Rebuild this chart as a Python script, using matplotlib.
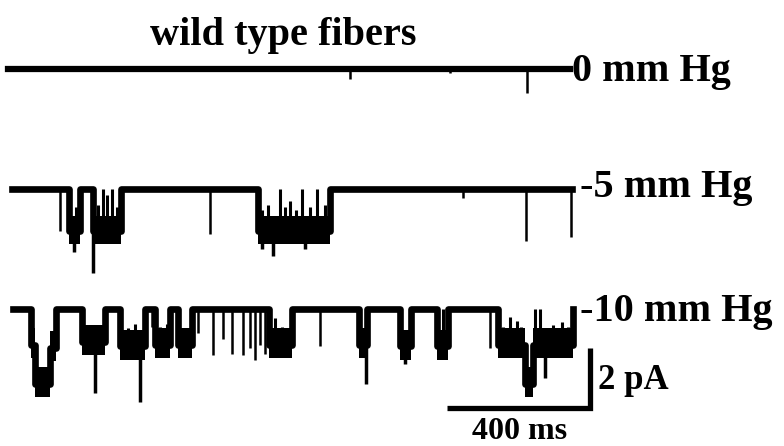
import matplotlib
matplotlib.use('Agg')
import matplotlib.pyplot as plt

# time in ms, current in pA (downward = channel opening)
labels = ['0 mm Hg', '-5 mm Hg', '-10 mm Hg']
offsets = [0, -4, -8]
rec_start = [-6, 6, 8]
rec_end = [1566, 1572, 1576]

# open periods: (start, end, level)
open_0 = []
open_5 = [(165, 196, -1.4), (232, 310, -1.4), (694, 895, -1.4)]
open_10 = [(59, 70, -1.2), (70, 112, -2.5), (112, 130, -1.3), (201, 266, -1.1),
           (308, 378, -1.25), (406, 448, -1.2), (470, 509, -1.2), (725, 789, -1.2),
           (976, 999, -1.2), (1091, 1122, -1.25), (1194, 1225, -1.25),
           (1365, 1440, -1.2), (1440, 1463, -2.5), (1463, 1576, -1.2)]

# brief openings from the closed level: (time, peak)
brief_0 = [(951, -0.35), (1231, -0.15), (1446, -0.8)]
brief_5 = [(140, -1.4), (559, -1.5), (1267, -0.3), (1443, -1.75), (1570, -1.6)]
brief_10 = [(397, -0.6), (526, -0.8), (568, -1.55), (596, -1.0), (621, -1.5),
            (652, -1.55), (671, -1.3), (685, -1.7), (699, -1.2), (713, -1.5),
            (867, -1.25), (1343, -1.3)]

# deeper spikes inside open periods: (time, peak)
deep_0 = []
deep_5 = [(179, -2.1), (232, -2.8), (705, -2.0), (736, -2.25), (825, -2.0)]
deep_10 = [(238, -2.8), (364, -3.1), (996, -2.5), (1105, -1.85), (1496, -2.3)]

# brief closures inside open periods: (time, level reached)
flick_0 = []
flick_5 = [(185, -0.6), (246, -0.55), (260, 0), (271, -0.2), (285, 0), (300, -0.6),
           (705, -0.7), (722, -0.55), (755, 0), (770, -0.6), (783, -0.4), (800, -0.7),
           (817, 0), (840, -0.6), (859, 0), (881, -0.55)]
flick_10 = [(215, -0.6), (330, -0.65), (350, -0.5), (420, -0.6), (438, -0.5),
            (741, -0.3), (760, -0.6), (1211, 0), (1380, -0.6), (1399, -0.27),
            (1418, -0.4), (1430, -0.6), (1468, 0), (1482, 0), (1520, -0.55),
            (1544, -0.45), (1560, -0.6), (1572, 0)]

opens = [open_0, open_5, open_10]
briefs = [brief_0, brief_5, brief_10]
deeps = [deep_0, deep_5, deep_10]
flicks = [flick_0, flick_5, flick_10]
band_up = [0.0, 0.5, 0.55]
band_down = [0.0, 0.42, 0.45]

scale_t = 400   # ms
scale_i = 2     # pA


def level_at(segs, t):
    for a, b, lev in segs:
        if a <= t <= b:
            return lev
    return 0.0


def step_trace(segs, t0, t1):
    xs, ys = [t0], [0.0]
    prev_end = None
    for a, b, lev in segs:
        if prev_end is None or a != prev_end:
            xs += [a]
            ys += [0.0]
        xs += [a, b]
        ys += [lev, lev]
        prev_end = b
        nxt = [s for s in segs if s[0] == b]
        if not nxt:
            xs += [b]
            ys += [0.0]
    xs += [t1]
    ys += [ys[-1]]
    return xs, ys


fig = plt.figure(figsize=(7.84, 4.46), dpi=100)
ax = fig.add_axes([0, 0, 1, 1])
ax.set_xlim(-28, 2165)
ax.set_ylim(-12.57, 2.3)
ax.axis('off')

for k in range(3):
    off = offsets[k]
    xs, ys = step_trace(opens[k], rec_start[k], rec_end[k])
    ax.plot(xs, [y + off for y in ys], color='black', lw=4.5 if k == 0 else 4.8,
            solid_joinstyle='round')
    for a, b, lev in opens[k]:
        ax.fill_between([a, b], off + lev - band_down[k], off + lev + band_up[k],
                        color='black', lw=0)
    for t, p in briefs[k]:
        ax.vlines(t, off, off + p, color='black', lw=1.8)
    for t, p in deeps[k]:
        ax.vlines(t, off + level_at(opens[k], t), off + p, color='black', lw=2.5)
    for t, p in flicks[k]:
        ax.vlines(t, off + level_at(opens[k], t), off + p, color='black', lw=2.2)

# scale bars
bar_x1 = 1622
bar_y = -11.3
ax.plot([bar_x1 - scale_t, bar_x1, bar_x1], [bar_y, bar_y, bar_y + scale_i],
        color='black', lw=3.8, solid_joinstyle='miter', solid_capstyle='butt')

font = dict(family='Liberation Serif', weight='bold', color='black')
ax.text(765, 1.13, 'wild type fibers', ha='center', va='center', fontsize=29, **font)
ax.text(1572, -0.1, labels[0], ha='left', va='center', fontsize=29, **font)
ax.text(1594, -3.95, labels[1], ha='left', va='center', fontsize=29, **font)
ax.text(1594, -8.1, labels[2], ha='left', va='center', fontsize=29, **font)
ax.text(1645, -10.37, '%d pA' % scale_i, ha='left', va='center', fontsize=25, **font)
ax.text(bar_x1 - scale_t / 2 + 4, -12.1, '%d ms' % scale_t, ha='center', va='center',
        fontsize=23, **font)

fig.savefig('out.png', dpi=100, facecolor='white')
